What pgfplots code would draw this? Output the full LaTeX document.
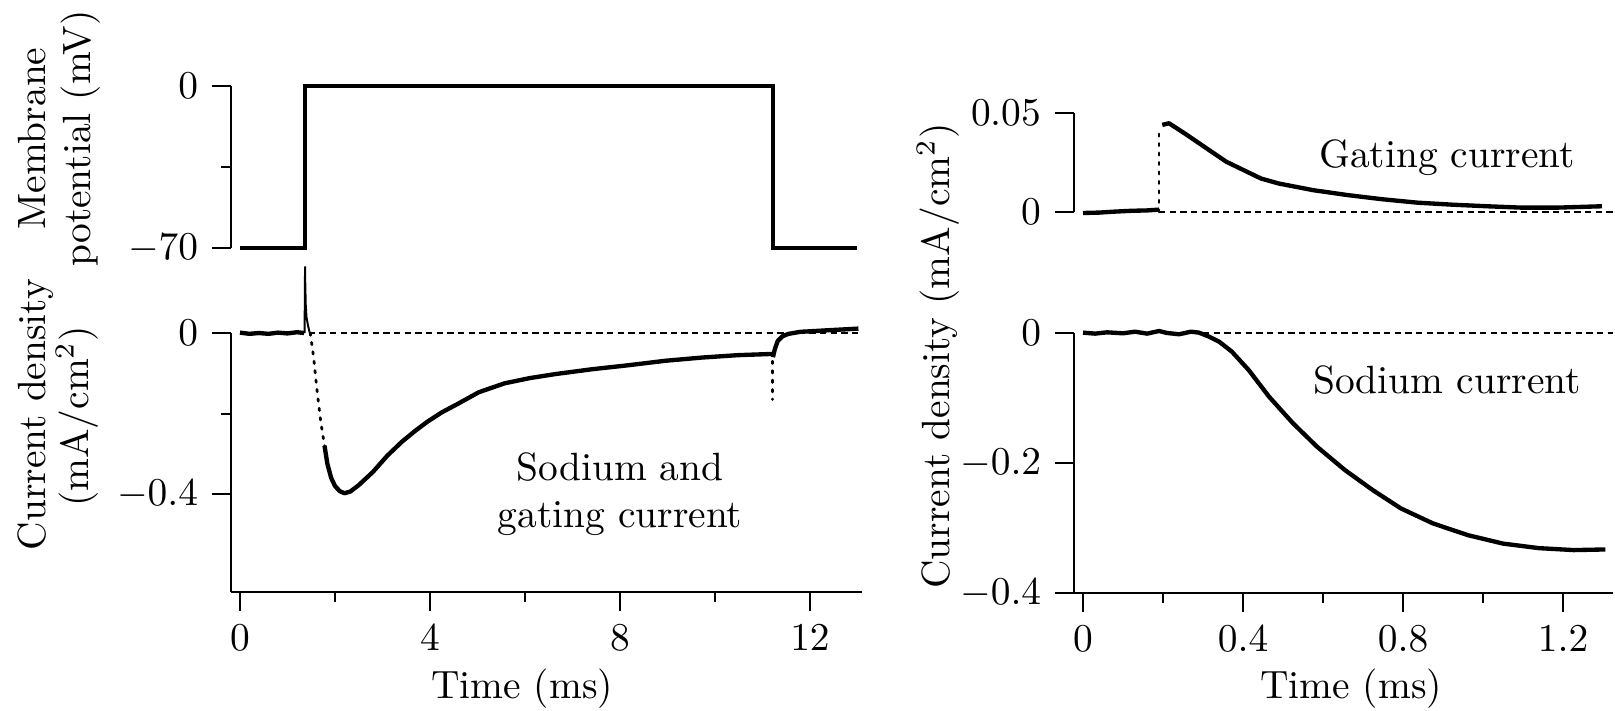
\documentclass[border=0pt]{standalone}
\usepackage{pgfplots}
\pgfplotsset{compat=1.18}
\pgfplotsset{
  myax/.style={
    scale only axis, clip=false, anchor=south west,
    axis line style={line width=0.5pt,-},
    tick align=outside,
    major tick length=4.8pt, minor tick length=2.5pt,
    tick style={black,line width=0.5pt},
    scaled y ticks=false, scaled x ticks=false,
    yticklabel style={/pgf/number format/fixed,/pgf/number format/precision=2},
    xticklabel style={/pgf/number format/fixed},
  },
  trace/.style={black,line width=1.1pt,line join=round},
  thin trace/.style={black,line width=0.5pt,line join=round},
  dots/.style={black,line width=0.7pt,dash pattern=on 0.6pt off 1.8pt,line cap=round},
  zero/.style={black,line width=0.45pt,dash pattern=on 1.6pt off 1.1pt},
}
\begin{document}
\begin{tikzpicture}
\useasboundingbox (0pt,0pt) rectangle (409.56pt,-180.06pt);

% top-left: membrane potential
\begin{axis}[myax, at={(58.58pt,-62.89pt)}, width=160.02pt, height=41.08pt,
  xmin=-0.189, xmax=13.095, ymin=-70, ymax=0,
  axis x line=none, axis y line*=left,
  ytick={-70,0}, minor ytick={-35}]
\addplot[black,line width=1pt] coordinates {(0,-70)(1.37,-70)(1.37,0)(11.22,0)(11.22,-70)(13.0,-70)};
\end{axis}

% bottom-left: sodium and gating current
\begin{axis}[myax, at={(58.58pt,-150.13pt)}, width=160.02pt, height=65.68pt,
  xmin=-0.189, xmax=13.095, ymin=-0.6435, ymax=0,
  axis x line*=bottom, axis y line*=left,
  xtick={0,4,8,12}, minor xtick={2,6,10},
  ytick={-0.4,0}, minor ytick={-0.2}]
\addplot[zero] coordinates {(1.45,0)(13.095,0)};
\addplot[trace] coordinates {(0,0.001)(0.2,-0.002)(0.4,0.0)(0.6,-0.002)(0.8,0.001)(1.0,-0.001)(1.2,0.002)(1.35,0.0)};
\addplot[thin trace] coordinates {(1.36,0.0)(1.37,0.164)(1.375,0.12)(1.385,0.07)(1.40,0.04)(1.43,0.02)(1.47,0.0)};
\addplot[dots] coordinates {(1.48,0)(1.55,-0.06)(1.62,-0.14)(1.70,-0.22)(1.78,-0.28)};
\addplot[trace] coordinates {(1.78,-0.28)(1.84,-0.325)(1.92,-0.36)(2.0,-0.38)(2.1,-0.393)(2.2,-0.398)(2.32,-0.394)(2.5,-0.378)(2.8,-0.345)(3.1,-0.305)(3.41,-0.27)(3.7,-0.242)(3.95,-0.22)(4.25,-0.197)(4.57,-0.177)(5.03,-0.147)(5.57,-0.125)(6.1,-0.112)(6.64,-0.102)(7.41,-0.090)(8.18,-0.080)(8.95,-0.069)(9.72,-0.061)(10.48,-0.055)(11.2,-0.052)};
\addplot[dots] coordinates {(11.21,-0.07)(11.21,-0.165)};
\addplot[trace] coordinates {(11.22,-0.06)(11.26,-0.04)(11.32,-0.02)(11.42,-0.008)(11.55,-0.002)(11.8,0.003)(12.4,0.007)(13.02,0.011)};
\end{axis}

% top-right: gating current
\begin{axis}[myax, at={(272.37pt,-53.76pt)}, width=136.69pt, height=25.11pt,
  xmin=-0.0225, xmax=1.325, ymin=0, ymax=0.05,
  axis x line=none, axis y line*=left,
  ytick={0,0.05}, yticklabels={0,0.05}]
\addplot[zero] coordinates {(0.19,0)(1.325,0)};
\addplot[trace] coordinates {(0,-0.0005)(0.04,-0.0003)(0.08,0.0002)(0.12,0.0006)(0.16,0.0008)(0.19,0.0012)};
\addplot[dots] coordinates {(0.19,0)(0.19,0.041)};
\addplot[trace] coordinates {(0.198,0.044)(0.215,0.0448)(0.254,0.0397)(0.315,0.0313)(0.358,0.0254)(0.402,0.0211)(0.445,0.0169)(0.489,0.0144)(0.576,0.011)(0.663,0.0085)(0.75,0.0064)(0.837,0.0047)(0.923,0.0037)(1.01,0.0029)(1.097,0.0022)(1.184,0.0022)(1.297,0.0029)};
\end{axis}

% bottom-right: sodium current
\begin{axis}[myax, at={(272.37pt,-150.38pt)}, width=136.69pt, height=65.94pt,
  xmin=-0.0225, xmax=1.325, ymin=-0.4, ymax=0,
  axis x line*=bottom, axis y line*=left,
  xtick={0,0.4,0.8,1.2}, minor xtick={0.2,0.6,1.0},
  ytick={-0.4,-0.2,0}]
\addplot[zero] coordinates {(0.3,0)(1.325,0)};
\addplot[trace] coordinates {(0,0.0005)(0.03,-0.001)(0.06,0.001)(0.1,-0.0005)(0.13,0.002)(0.16,-0.001)(0.19,0.003)(0.21,0.0)(0.24,-0.002)(0.27,0.002)(0.29,0.0005)(0.30,-0.002)(0.315,-0.0056)(0.34,-0.0133)(0.372,-0.0287)(0.414,-0.0569)(0.465,-0.098)(0.525,-0.139)(0.585,-0.175)(0.655,-0.211)(0.725,-0.242)(0.795,-0.270)(0.875,-0.293)(0.962,-0.311)(1.05,-0.324)(1.14,-0.331)(1.227,-0.334)(1.306,-0.333)};
\end{axis}

% labels
\begin{scope}[x=0.2536pt,y=0.2536pt]
\node[rotate=90,anchor=base,inner sep=0pt] at (45,-138.5) {Membrane};
\node[rotate=90,anchor=base,inner sep=0pt] at (90,-138.5) {potential (mV)};
\node[rotate=90,anchor=base,inner sep=0pt] at (45,-414.5) {Current density};
\node[rotate=90,anchor=base,inner sep=0pt] at (88,-416.5) {(mA/cm$^2$)};
\node[rotate=90,anchor=base,inner sep=0pt] at (949,-356) {Current density (mA/cm$^2$)};
\node[anchor=base,inner sep=0pt] at (522,-698) {Time (ms)};
\node[anchor=base,inner sep=0pt] at (1351,-698) {Time (ms)};
\node[anchor=base,inner sep=0pt] at (620,-480) {Sodium and};
\node[anchor=base,inner sep=0pt] at (620,-527) {gating current};
\node[anchor=base,inner sep=0pt] at (1447,-167) {Gating current};
\node[anchor=base,inner sep=0pt] at (1447,-393) {Sodium current};
\end{scope}
\end{tikzpicture}
\end{document}
